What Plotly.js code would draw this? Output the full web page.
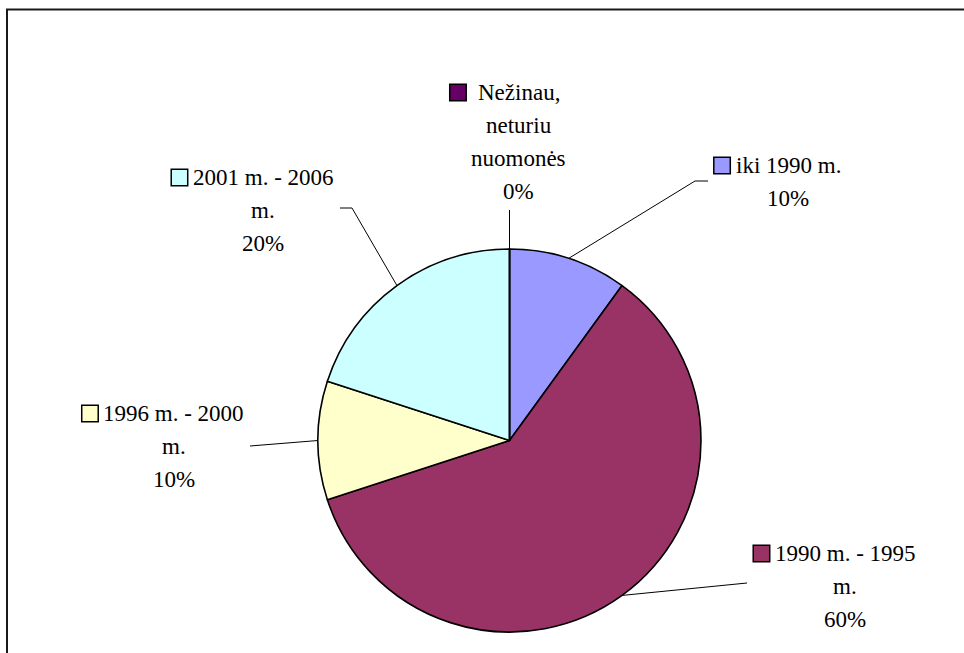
<!DOCTYPE html>
<html>
<head>
<meta charset="utf-8">
<script src="https://cdn.plot.ly/plotly-3.0.1.min.js"></script>
<style>
  html, body { margin: 0; padding: 0; background: #ffffff; }
  #chart { width: 964px; height: 653px; }
</style>
</head>
<body>
<div id="chart"></div>
<script>
// Survey answers (share of respondents)
const categories = ['iki 1990 m.', '1990 m. - 1995 m.', '1996 m. - 2000 m.', '2001 m. - 2006 m.', 'Nežinau, neturiu nuomonės'];
const values = [10, 60, 10, 20, 0];
const colors = ['#9999FF', '#993366', '#FFFFCC', '#CCFFFF', '#660066'];

// How each category name wraps in its data label
const labelLines = [
  ['iki 1990 m.'],
  ['1990 m. - 1995', 'm.'],
  ['1996 m. - 2000', 'm.'],
  ['2001 m. - 2006', 'm.'],
  ['Nežinau,', 'neturiu', 'nuomonės']
];

// Page geometry (pixels)
const W = 964, H = 653;
const cx = 509.5, cy = 440.5, R = 191.5;
const FONT = 'Liberation Serif';
const FS = 23;
const LINE = 33.3;

// Label placement: centre x of the text block, y of its first line,
// and the elbow points of each leader line (outside the pie).
const labelPos = [
  { x: 788, y: 165, leader: [[695, 181], [708, 181]] },
  { x: 845, y: 553, leader: [[747, 583]] },
  { x: 173.5, y: 413, leader: [[250, 446]] },
  { x: 263, y: 177, leader: [[352, 208], [340, 208]] },
  { x: 518.5, y: 92, leader: [[509.5, 210]] }
];

const px = x => x / W;
const py = y => 1 - y / H;

const total = values.reduce((a, b) => a + b, 0);
const pct = values.map(v => Math.round(v / total * 100) + '%');

const ctx = document.createElement('canvas').getContext('2d');
ctx.font = FS + 'px "Liberation Serif"';

const annotations = [];
const shapes = [];

// Chart area border (top and left edges within the view)
shapes.push({
  type: 'path', xref: 'paper', yref: 'paper',
  path: `M ${px(W + 5)} ${py(9.5)} L ${px(7)} ${py(9.5)} L ${px(7)} ${py(H + 5)}`,
  line: { color: '#1a1a1a', width: 2 }
});

let cum = 0;
categories.forEach((cat, i) => {
  // angle of slice centre, clockwise from 12 o'clock
  const mid = (cum + values[i] / 2) / total * 2 * Math.PI;
  cum += values[i];
  const ex = cx + R * Math.sin(mid);
  const ey = cy - R * Math.cos(mid);

  const pos = labelPos[i];
  const pts = [[ex, ey]].concat(pos.leader);
  shapes.push({
    type: 'path', xref: 'paper', yref: 'paper',
    path: pts.map((p, k) => (k ? 'L ' : 'M ') + px(p[0]) + ' ' + py(p[1])).join(' '),
    line: { color: '#000000', width: 1 }
  });

  const lines = labelLines[i].concat([pct[i]]);
  lines.forEach((t, k) => {
    annotations.push({
      xref: 'paper', yref: 'paper',
      x: px(pos.x), y: py(pos.y + k * LINE),
      xanchor: 'center', yanchor: 'middle',
      text: t, showarrow: false,
      font: { family: FONT, size: FS, color: '#000000' }
    });
  });

  // legend key left of the widest text line, level with the first line
  const w = Math.max(...lines.map(t => ctx.measureText(t).width));
  const kr = pos.x - w / 2 - 5;
  const ks = 16.5;
  shapes.push({
    type: 'rect', xref: 'paper', yref: 'paper',
    x0: px(kr - ks), x1: px(kr),
    y0: py(pos.y - ks / 2 + 0.5), y1: py(pos.y + ks / 2 + 0.5),
    fillcolor: colors[i],
    line: { color: '#000000', width: 1.5 }
  });
});

const trace = {
  type: 'pie',
  labels: categories,
  values: values,
  sort: false,
  direction: 'clockwise',
  rotation: 0,
  textinfo: 'none',
  hoverinfo: 'label+percent',
  marker: { colors: colors, line: { color: '#000000', width: 1.6 } },
  domain: { x: [px(cx - R), px(cx + R)], y: [py(cy + R), py(cy - R)] },
  showlegend: false
};

const layout = {
  width: W, height: H,
  margin: { l: 0, r: 0, t: 0, b: 0 },
  paper_bgcolor: '#ffffff',
  font: { family: FONT },
  showlegend: false,
  shapes: shapes,
  annotations: annotations
};

Plotly.newPlot('chart', [trace], layout, { displayModeBar: false, staticPlot: true });
</script>
</body>
</html>
